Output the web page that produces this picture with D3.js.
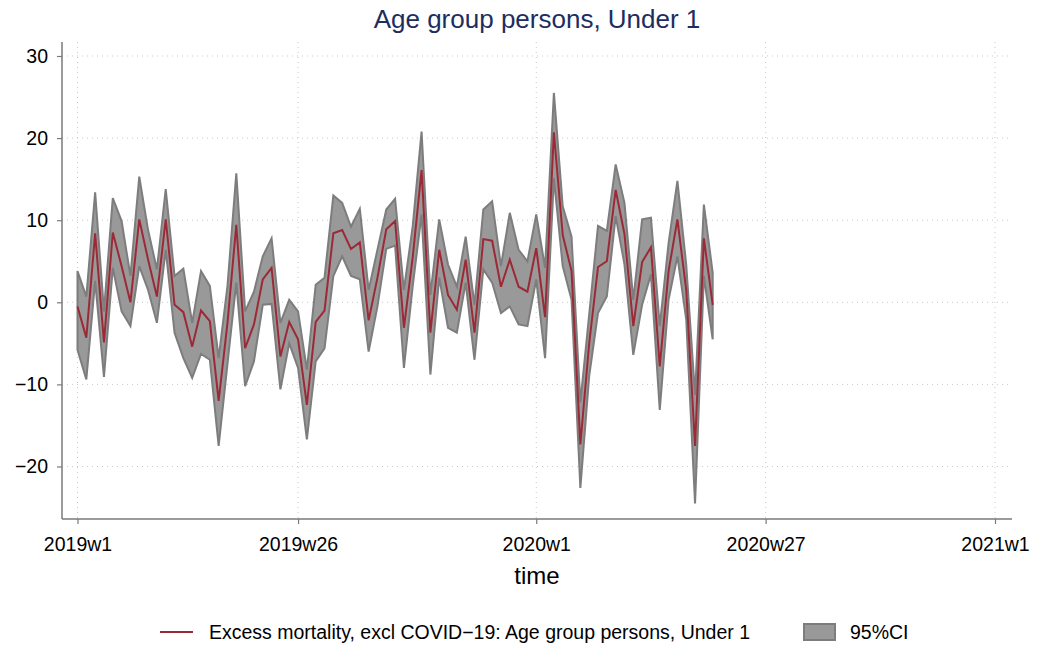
<!DOCTYPE html>
<html>
<head>
<meta charset="utf-8">
<script src="https://cdn.jsdelivr.net/npm/d3@7"></script>
<style>
  html, body { margin: 0; padding: 0; background: #fff; }
  svg { display: block; font-family: "Liberation Sans", Arial, Helvetica, sans-serif; }
</style>
</head>
<body>
<svg id="chart" width="1038" height="646"></svg>
<script>
// Weekly excess mortality (under 1), 2019w1 .. 2020w21, with 95% CI bounds
const weekIndex = d3.range(0, 73);
const excess = [
  -0.5, -4.3, 8.4, -4.9, 8.5, 4.4, 0.0, 10.1, 5.2, 0.7,
  10.1, -0.3, -1.2, -5.4, -1.0, -2.3, -12.0, -2.5, 9.45, -5.6,
  -2.7, 2.8, 4.2, -6.6, -2.4, -4.5, -12.5, -2.4, -1.0, 8.4,
  8.8, 6.5, 7.3, -2.2, 3.0, 8.9, 9.9, -3.1, 5.5, 16.1,
  -3.7, 6.4, 0.9, -0.9, 5.2, -3.7, 7.7, 7.5, 1.9, 5.2,
  1.9, 1.3, 6.6, -1.8, 20.7, 8.2, 3.8, -17.3, -5.0, 4.3,
  5.0, 13.7, 8.3, -2.9, 4.9, 6.7, -7.8, 3.8, 10.1, 1.5,
  -17.5, 7.8, -0.3
];
const ciUpper = [
  3.8, 0.7, 13.4, -1.1, 12.7, 9.9, 3.2, 15.3, 8.8, 4.0,
  13.8, 3.2, 4.1, -2.5, 3.8, 2.0, -6.8, 2.0, 15.7, -1.1,
  1.3, 5.6, 7.8, -2.5, 0.3, -1.1, -8.2, 2.15, 3.0, 13.0,
  12.1, 9.2, 11.4, 1.5, 6.4, 11.3, 12.6, 1.5, 9.3, 20.8,
  0.9, 10.1, 4.6, 1.9, 8.0, -0.3, 11.3, 12.3, 4.4, 10.9,
  6.4, 5.0, 10.7, 4.2, 25.5, 11.7, 8.0, -12.2, -1.5, 9.3,
  8.7, 16.8, 12.1, 0.3, 10.1, 10.3, -2.9, 7.2, 14.8, 4.6,
  -11.3, 11.9, 3.6
];
const ciLower = [
  -5.8, -9.4, 2.6, -9.1, 4.2, -1.1, -2.9, 4.4, 1.5, -2.5,
  6.4, -3.7, -6.8, -9.2, -6.3, -7.0, -17.5, -7.5, 2.4, -10.2,
  -7.2, -0.3, -0.2, -10.6, -5.0, -8.0, -16.7, -7.2, -5.6, 3.2,
  5.6, 3.2, 2.8, -6.0, -0.5, 6.5, 6.9, -8.0, 2.0, 10.7,
  -8.8, 3.0, -3.1, -3.7, 2.4, -7.0, 4.0, 2.4, -1.3, -0.5,
  -2.7, -2.9, 2.8, -6.8, 15.1, 4.4, 0.3, -22.6, -9.0, -1.3,
  0.7, 10.5, 4.6, -6.4, -0.3, 3.4, -13.1, 0.3, 5.6, -2.1,
  -24.5, 3.2, -4.5
];

// Axis ticks
const yTicks = [-20, -10, 0, 10, 20, 30];
const xTickWeeks = [0, 25, 52, 78, 104];
const xTickLabels = ["2019w1", "2019w26", "2020w1", "2020w27", "2021w1"];

const titleText = "Age group persons, Under 1";
const xTitle = "time";
const legendLine = "Excess mortality, excl COVID\u221219: Age group persons, Under 1";
const legendBand = "95%CI";

const svg = d3.select("#chart");

const plot = { left: 62, right: 1012, top: 42, bottom: 519 };

const x = d3.scaleLinear().domain([0, 104]).range([77.5, 995]);
const y = d3.scaleLinear().domain([-20, 30]).range([466.5, 56]);

const lineColor = "#9c2a36";
const bandFill = "#999999";
const bandStroke = "#7d7d7d";
const gridColor = "#c9c9c9";
const axisColor = "#7a7a7a";
const fmt = v => (v < 0 ? "\u2212" + Math.abs(v) : String(v));

// Gridlines
const grid = svg.append("g");
grid.selectAll("line.hy").data(yTicks).join("line")
  .attr("x1", plot.left).attr("x2", plot.right)
  .attr("y1", d => y(d)).attr("y2", d => y(d))
  .attr("stroke", gridColor).attr("stroke-width", 1)
  .attr("stroke-dasharray", "1,4");
grid.selectAll("line.vx").data(xTickWeeks).join("line")
  .attr("x1", d => x(d)).attr("x2", d => x(d))
  .attr("y1", plot.top).attr("y2", plot.bottom)
  .attr("stroke", gridColor).attr("stroke-width", 1)
  .attr("stroke-dasharray", "1,4");

// Confidence band
const rows = weekIndex.map((w, i) => ({ w, v: excess[i], lo: ciLower[i], hi: ciUpper[i] }));
const area = d3.area().x(d => x(d.w)).y0(d => y(d.lo)).y1(d => y(d.hi));
svg.append("path").datum(rows)
  .attr("d", area)
  .attr("fill", bandFill)
  .attr("stroke", bandStroke)
  .attr("stroke-width", 2)
  .attr("stroke-linejoin", "miter");

// Estimate line
const line = d3.line().x(d => x(d.w)).y(d => y(d.v));
svg.append("path").datum(rows)
  .attr("d", line)
  .attr("fill", "none")
  .attr("stroke", lineColor)
  .attr("stroke-width", 2);

// Y axis
const yAxis = d3.axisLeft(y).tickValues(yTicks).tickSize(5).tickPadding(9).tickFormat(fmt);
const gy = svg.append("g").attr("transform", `translate(${plot.left},0)`).call(yAxis);
gy.select(".domain").remove();
gy.append("line").attr("x1", 0).attr("x2", 0).attr("y1", plot.top).attr("y2", plot.bottom)
  .attr("stroke", axisColor).attr("stroke-width", 1.5);
gy.selectAll(".tick line").attr("stroke", axisColor).attr("stroke-width", 1.2);
gy.selectAll(".tick text").attr("font-size", 19.5).attr("fill", "#000")
  .attr("font-family", "Liberation Sans, Arial, sans-serif");

// X axis
const xAxis = d3.axisBottom(x).tickValues(xTickWeeks).tickSize(5).tickPadding(13)
  .tickFormat((d, i) => xTickLabels[i]);
const gx = svg.append("g").attr("transform", `translate(0,${plot.bottom})`).call(xAxis);
gx.select(".domain").remove();
gx.append("line").attr("x1", plot.left).attr("x2", plot.right).attr("y1", 0).attr("y2", 0)
  .attr("stroke", axisColor).attr("stroke-width", 1.5);
gx.selectAll(".tick line").attr("stroke", axisColor).attr("stroke-width", 1.2);
gx.selectAll(".tick text").attr("font-size", 19.5).attr("fill", "#000")
  .attr("font-family", "Liberation Sans, Arial, sans-serif");

// Titles
svg.append("text").attr("x", 537).attr("y", 28).attr("text-anchor", "middle")
  .attr("font-size", 26).attr("fill", "#1c2d5e").text(titleText);
svg.append("text").attr("x", 537).attr("y", 584).attr("text-anchor", "middle")
  .attr("font-size", 24).attr("fill", "#000").text(xTitle);

// Legend
const lg = svg.append("g");
lg.append("line").attr("x1", 160).attr("x2", 193).attr("y1", 632).attr("y2", 632)
  .attr("stroke", lineColor).attr("stroke-width", 2);
lg.append("text").attr("x", 209).attr("y", 639).attr("font-size", 19.5).attr("fill", "#000")
  .text(legendLine);
lg.append("rect").attr("x", 804).attr("y", 624).attr("width", 31).attr("height", 16)
  .attr("fill", bandFill).attr("stroke", bandStroke).attr("stroke-width", 2);
lg.append("text").attr("x", 850).attr("y", 639).attr("font-size", 19.5).attr("fill", "#000")
  .text(legendBand);
</script>
</body>
</html>
